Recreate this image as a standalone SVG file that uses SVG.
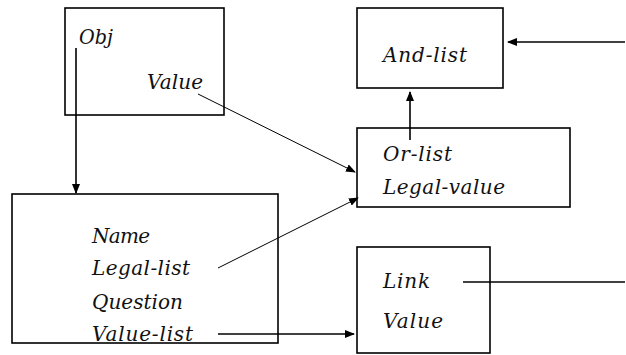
<svg xmlns="http://www.w3.org/2000/svg" width="626" height="355" viewBox="0 0 626 355">
<style>
.box{fill:#fff;stroke:#000;stroke-width:1.6}
.t{font-family:"DejaVu Serif","Liberation Serif",serif;font-style:italic;font-size:20px;fill:#111}
.c{fill:none;stroke:#000;stroke-width:1.6}
.thin{fill:none;stroke:#000;stroke-width:1}
</style>
<defs>
<marker id="ah" markerWidth="10" markerHeight="8" refX="9" refY="4" orient="auto" markerUnits="userSpaceOnUse">
<path d="M0,0 L10,4 L0,8 Z" fill="#000"/>
</marker>
</defs>
<g id="obj">
<rect class="box" x="65" y="8" width="159" height="107"/>
<text class="t" x="79" y="44" textLength="34" lengthAdjust="spacingAndGlyphs">Obj</text>
<text class="t" x="147" y="89" textLength="56" lengthAdjust="spacing">Value</text>
</g>
<g id="name">
<rect class="box" x="12" y="194" width="266" height="149"/>
<text class="t" x="92" y="243" textLength="58" lengthAdjust="spacing">Name</text>
<text class="t" x="92" y="275" textLength="98" lengthAdjust="spacing">Legal-list</text>
<text class="t" x="92" y="309" textLength="91" lengthAdjust="spacing">Question</text>
<text class="t" x="92" y="341" textLength="101" lengthAdjust="spacing">Value-list</text>
</g>
<g id="andlist">
<rect class="box" x="357" y="8" width="146" height="80"/>
<text class="t" x="383" y="62" textLength="84" lengthAdjust="spacing">And-list</text>
</g>
<g id="orlist">
<rect class="box" x="357" y="128" width="213" height="79"/>
<text class="t" x="383" y="161" textLength="69" lengthAdjust="spacing">Or-list</text>
<text class="t" x="383" y="194" textLength="122" lengthAdjust="spacing">Legal-value</text>
</g>
<g id="link">
<rect class="box" x="357" y="247" width="133" height="106"/>
<text class="t" x="383" y="288" textLength="47" lengthAdjust="spacing">Link</text>
<text class="t" x="383" y="328" textLength="60" lengthAdjust="spacing">Value</text>
</g>
<g id="connectors">
<line class="c" x1="76" y1="48" x2="76" y2="193" marker-end="url(#ah)"/>
<line class="thin" x1="198" y1="94" x2="355" y2="172" marker-end="url(#ah)"/>
<line class="thin" x1="218" y1="268" x2="358" y2="198" marker-end="url(#ah)"/>
<line class="c" x1="410" y1="140" x2="410" y2="92" marker-end="url(#ah)"/>
<line class="c" x1="625" y1="42" x2="508" y2="42" marker-end="url(#ah)"/>
<line class="c" x1="218" y1="334" x2="354" y2="334" marker-end="url(#ah)"/>
<line class="c" x1="463" y1="282" x2="625" y2="282"/>
</g>
</svg>
